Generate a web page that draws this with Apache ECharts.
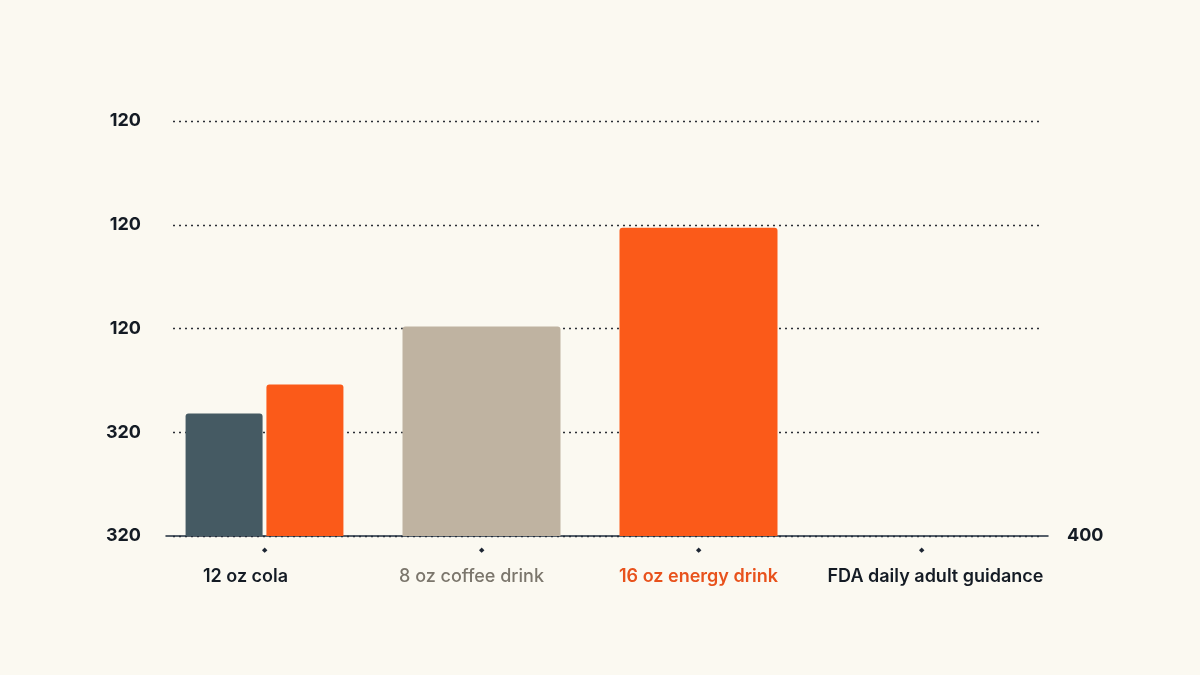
<!DOCTYPE html>
<html>
<head>
<meta charset="utf-8">
<script src="https://cdn.jsdelivr.net/npm/echarts@6/dist/echarts.min.js"></script>
<style>
  html, body { margin: 0; padding: 0; background: #fbf9f1; }
  #chart { width: 1200px; height: 675px; }
</style>
</head>
<body>
<div id="chart"></div>
<script>
// categories and values (caffeine chart)
var categories = ['12 oz cola', '8 oz coffee drink', '16 oz energy drink', 'FDA daily adult guidance'];
var colaDark = [118, '-', '-', '-'];
var colaOrange = [146, '-', '-', '-'];
var mainBars = ['-', 202, 297, '-'];
var leftTickLabels = ['320', '320', '120', '120', '120']; // bottom to top, as shown
var rightTickLabel = '400';

var labelStyles = ['cola', 'coffee', 'energy', 'fda'];

var chart = echarts.init(document.getElementById('chart'));
var font = 'Inter, "Noto Sans", sans-serif';

option = {
    backgroundColor: '#fbf9f1',
    animation: false,
    grid: [
        { left: 173, right: 159, top: 121, bottom: 139 },
        { left: 156, right: 176, top: 121, bottom: 139 },
        { left: 166, right: 152, top: 121, bottom: 139 }
    ],
    xAxis: [
        { gridIndex: 0, type: 'category', data: categories, show: false },
        {
            gridIndex: 1, type: 'category', data: categories,
            axisLine: { show: false }, axisTick: { show: false },
            axisLabel: {
                interval: 0, margin: 7,
                formatter: function (v, i) {
                    var s = labelStyles[i];
                    return '{d' + (i === 3 ? 'f' : '') + '|◆}\n{' + s + '|' + v + '}';
                },
                rich: {
                    d: { fontSize: 7, color: '#1d2633', lineHeight: 14 },
                    df: { fontSize: 7, color: '#1d2633', lineHeight: 14, padding: [0, 0, 0, 12] },
                    cola: { fontSize: 18, fontWeight: 600, color: '#141b24', fontFamily: font, lineHeight: 40, padding: [0, 38, 0, 0] },
                    coffee: { fontSize: 18, fontWeight: 500, color: '#7b766c', fontFamily: font, lineHeight: 40, padding: [0, 20, 0, 0] },
                    energy: { fontSize: 18, fontWeight: 600, color: '#e8521c', fontFamily: font, lineHeight: 40 },
                    fda: { fontSize: 18, fontWeight: 600, color: '#141b24', fontFamily: font, lineHeight: 40, padding: [0, 0, 0, 40] }
                }
            }
        },
        { gridIndex: 1, type: 'category', data: categories, show: false },
        {
            gridIndex: 2, type: 'category', data: categories,
            axisLine: { show: true, lineStyle: { color: '#1f2d3d', width: 1.5 } },
            axisTick: { show: false }, axisLabel: { show: false }
        }
    ],
    yAxis: [
        {
            gridIndex: 0, type: 'value', min: 0, max: 400, interval: 100,
            axisLine: { show: false }, axisTick: { show: false },
            axisLabel: {
                margin: 32, fontSize: 18, fontWeight: 700, color: '#141b24', fontFamily: font,
                formatter: function (v) { return leftTickLabels[Math.round(v / 100)]; }
            },
            splitLine: { show: true, lineStyle: { color: '#2a2f36', type: [2, 4], width: 1.3 } }
        },
        { gridIndex: 1, type: 'value', min: 0, max: 400, interval: 100, show: false },
        {
            gridIndex: 2, type: 'value', position: 'right', min: 0, max: 400, interval: 100,
            axisLine: { show: false }, axisTick: { show: false }, splitLine: { show: false },
            axisLabel: {
                margin: 19, fontSize: 18, fontWeight: 700, color: '#141b24', fontFamily: font,
                formatter: function (v) { return v === 0 ? rightTickLabel : ''; }
            }
        }
    ],
    series: [
        {
            type: 'bar', xAxisIndex: 2, yAxisIndex: 1, data: colaDark,
            barWidth: 77, barGap: '5%',
            itemStyle: { color: '#455a63', borderRadius: [3, 3, 0, 0] }
        },
        {
            type: 'bar', xAxisIndex: 2, yAxisIndex: 1, data: colaOrange,
            barWidth: 77, barGap: '5%',
            itemStyle: { color: '#fb5a19', borderRadius: [3, 3, 0, 0] }
        },
        {
            type: 'bar', xAxisIndex: 1, yAxisIndex: 1, barWidth: 158,
            data: mainBars.map(function (v, i) {
                return { value: v, itemStyle: { color: i === 1 ? '#bfb3a1' : '#fb5a19' } };
            }),
            itemStyle: { borderRadius: [3, 3, 0, 0] }
        }
    ]
};
chart.setOption(option);
</script>
</body>
</html>
